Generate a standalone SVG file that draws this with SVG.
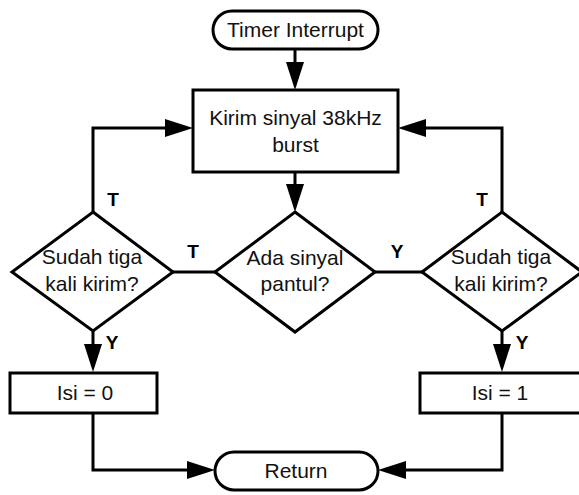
<svg xmlns="http://www.w3.org/2000/svg" width="579" height="495" viewBox="0 0 579 495">
<defs>
<style>
.s{fill:#fff;stroke:#000;stroke-width:3}
.t{font-family:"Liberation Sans",Arial,sans-serif;font-size:21px;fill:#111;text-anchor:middle}
.l{font-family:"Liberation Sans",Arial,sans-serif;font-size:19px;font-weight:bold;fill:#000;text-anchor:middle}
.c{fill:none;stroke:#000;stroke-width:3}
.a{fill:#000}
</style>
</defs>
<rect width="579" height="495" fill="#fff"/>
<g id="connectors">
<path class="c" d="M295,50 V64"/>
<path class="a" d="M286,62 L304,62 L295,90 Z"/>
<path class="c" d="M295,172 V186"/>
<path class="a" d="M286,184 L304,184 L295,212 Z"/>
<path class="c" d="M173,272 H215"/>
<path class="c" d="M375,272 H422"/>
<path class="c" d="M93,212 V128 H167"/>
<path class="a" d="M165,119 L165,137 L193,128 Z"/>
<path class="c" d="M502,212 V128 H424"/>
<path class="a" d="M426,119 L426,137 L398,128 Z"/>
<path class="c" d="M93,330 V346"/>
<path class="a" d="M84,344 L102,344 L93,372 Z"/>
<path class="c" d="M502,330 V346"/>
<path class="a" d="M493,344 L511,344 L502,372 Z"/>
<path class="c" d="M93,412 V470 H189"/>
<path class="a" d="M187,461 L187,479 L215,470 Z"/>
<path class="c" d="M502,412 V470 H404"/>
<path class="a" d="M406,461 L406,479 L378,470 Z"/>
<text class="l" x="113" y="206">T</text>
<text class="l" x="193" y="258">T</text>
<text class="l" x="397" y="258">Y</text>
<text class="l" x="482" y="206">T</text>
<text class="l" x="112" y="349">Y</text>
<text class="l" x="522" y="349">Y</text>
</g>
<g id="start">
<rect class="s" x="213" y="11" width="165" height="38" rx="19"/>
<text class="t" x="295.5" y="37">Timer Interrupt</text>
</g>
<g id="send">
<rect class="s" x="193" y="90" width="205" height="82"/>
<text class="t" x="295.5" y="125">Kirim sinyal 38kHz</text>
<text class="t" x="295.5" y="152">burst</text>
</g>
<g id="check">
<polygon class="s" points="295,212 375,272 295,332 215,272"/>
<text class="t" x="295" y="265">Ada sinyal</text>
<text class="t" x="295" y="291">pantul?</text>
</g>
<g id="countLeft">
<polygon class="s" points="93,212 173,272 93,331 12,272"/>
<text class="t" x="92" y="264">Sudah tiga</text>
<text class="t" x="92" y="291">kali kirim?</text>
</g>
<g id="countRight">
<polygon class="s" points="502,212 582,272 502,331 422,272"/>
<text class="t" x="501" y="264">Sudah tiga</text>
<text class="t" x="501" y="291">kali kirim?</text>
</g>
<g id="isi0">
<rect class="s" x="10" y="373" width="147" height="40"/>
<text class="t" x="85" y="400">Isi = 0</text>
</g>
<g id="isi1">
<rect class="s" x="420" y="373" width="162" height="40"/>
<text class="t" x="500" y="400">Isi = 1</text>
</g>
<g id="return">
<rect class="s" x="215" y="452" width="163" height="38" rx="19"/>
<text class="t" x="296" y="478">Return</text>
</g>
</svg>
